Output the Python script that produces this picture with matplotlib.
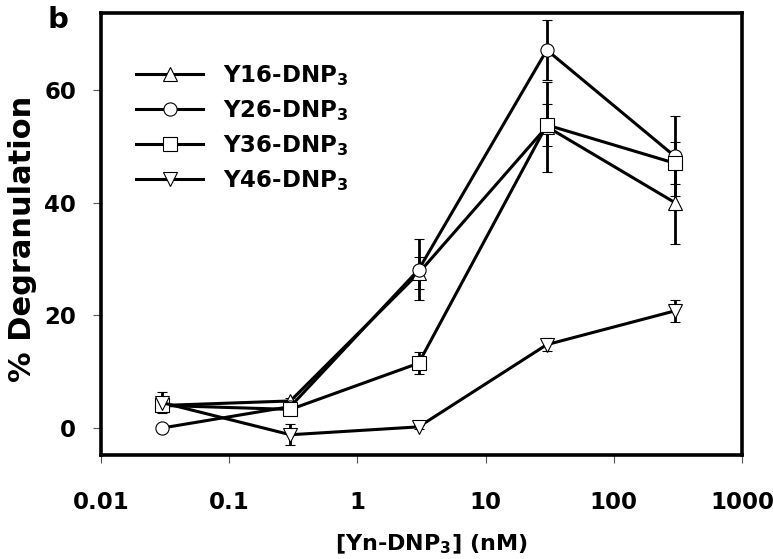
import numpy as np
import matplotlib
matplotlib.use('Agg')
import matplotlib.pyplot as plt
from matplotlib.ticker import NullLocator

plt.rcParams['font.family'] = ['DejaVu Sans']
plt.rcParams['font.weight'] = 'bold'
plt.rcParams['mathtext.default'] = 'bf'

# concentrations (nM)
conc = [0.03, 0.3, 3, 30, 300]

y16 = [4.0, 4.8, 27.5, 53.5, 40.0]
y16_err = [0.8, 0.5, 2.8, 8.0, 7.4]
y26 = [0.0, 3.8, 28.1, 67.1, 48.2]
y26_err = [0.3, 0.5, 5.4, 5.3, 7.1]
y36 = [4.0, 3.3, 11.5, 53.8, 47.0]
y36_err = [0.5, 0.5, 2.0, 3.8, 3.7]
y46 = [4.5, -1.2, 0.2, 14.8, 20.8]
y46_err = [1.9, 1.9, 0.3, 1.2, 2.0]

names = ['Y16-DNP$_3$', 'Y26-DNP$_3$', 'Y36-DNP$_3$', 'Y46-DNP$_3$']
markers = ['^', 'o', 's', 'v']
series = [(y16, y16_err), (y26, y26_err), (y36, y36_err), (y46, y46_err)]

fig = plt.figure(figsize=(7.73, 5.59), dpi=100)
ax = fig.add_axes([0.1307, 0.186, 0.8293, 0.791])

handles = []
for (vals, errs), name, mk in zip(series, names, markers):
    eb = ax.errorbar(conc, vals, yerr=errs, color='black', lw=2.2,
                     marker=mk, markersize=9.5, markerfacecolor='white',
                     markeredgecolor='black', markeredgewidth=0.8,
                     elinewidth=2.0, capsize=3.6, capthick=2.0, label=name)
    # legend shows only line + marker, no error bar
    handles.append(eb[0])

ax.set_xscale('log')
ax.set_xlim(0.01, 1000)
ax.set_ylim(-4.8, 73.7)
ax.set_xticks([0.01, 0.1, 1, 10, 100, 1000])
ax.set_xticklabels(['0.01', '0.1', '1', '10', '100', '1000'])
ax.xaxis.set_minor_locator(NullLocator())
ax.set_yticks([0, 20, 40, 60])

for s in ax.spines.values():
    s.set_linewidth(2.6)

ax.tick_params(axis='x', direction='out', length=6, width=0.8, color='#555555',
               labelsize=16.5, pad=20)
ax.tick_params(axis='y', direction='out', length=6, width=0.8, color='#555555',
               labelsize=16.5, pad=12)

ax.set_xlabel('[Yn-DNP$_3$] (nM)', fontsize=16, fontweight='bold')
ax.xaxis.set_label_coords(0.516, -0.175)
ax.set_ylabel('% Degranulation', fontsize=22, fontweight='bold')
ax.yaxis.set_label_coords(-0.1, 0.489)

ax.legend(handles, names, loc='upper left', bbox_to_anchor=(0.022, 0.934),
          frameon=False, fontsize=16.5, handlelength=2.95, handletextpad=0.85,
          labelspacing=0.45)

fig.text(0.062, 0.99, 'b', fontsize=21, fontweight='bold', va='top')

fig.savefig('out.png', dpi=100)
